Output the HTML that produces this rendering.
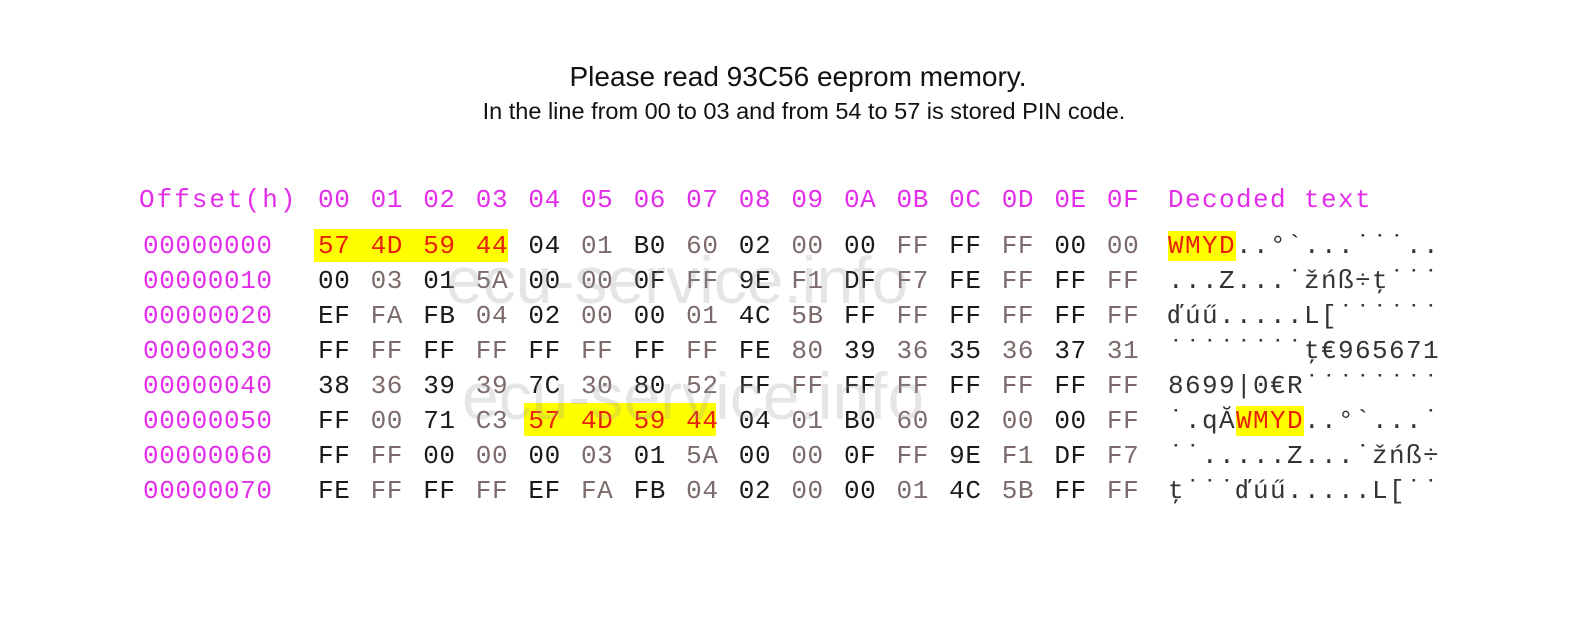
<!DOCTYPE html>
<html><head><meta charset="utf-8"><style>
body{margin:0;width:1586px;height:627px;background:#fff;position:relative;overflow:hidden;font-family:"Liberation Sans",sans-serif}
.t1{position:absolute;top:61px;left:0;width:1596px;text-align:center;font-size:28px;color:#111}
.t2{position:absolute;top:98px;left:0;width:1608px;text-align:center;font-size:23.5px;color:#111}
.row{position:absolute;left:0;height:35px;font-family:"Liberation Mono",monospace;font-size:26px;line-height:35px;letter-spacing:0.6px;white-space:nowrap}
.row .o{position:absolute;left:143px;color:#e22ee8}
.row .h{position:absolute;left:318px}
.row .h span{display:inline-block;width:52.6px}
.row .h span:nth-child(odd){color:#1a1a1a}
.row .h span:nth-child(even){color:#7d6b6b}
.row .d{position:absolute;left:1168px;color:#333;letter-spacing:1.4px}
.hdr{color:#e22ee8}
.hdr .h span{color:#e22ee8!important}
.hdr .o{left:139px;letter-spacing:2px}
.hdr .d{color:#e22ee8}
.w{background:#ffff00;color:#e8210c}
.hl{position:absolute;background:#ffff00}
.wm{position:absolute;font-family:"Liberation Sans",sans-serif;font-size:66px;color:rgba(150,150,150,0.25);white-space:nowrap}
</style></head><body>
<div class="t1">Please read 93C56 eeprom memory.</div>
<div class="t2">In the line from 00 to 03 and from 54 to 57 is stored PIN code.</div>
<div class="hl" style="left:314px;top:229px;width:194px;height:33px"></div>
<div class="hl" style="left:524px;top:403px;width:192px;height:33px"></div>
<div class="row hdr" style="top:183px"><span class="o">Offset(h)</span><span class="h"><span>00</span><span>01</span><span>02</span><span>03</span><span>04</span><span>05</span><span>06</span><span>07</span><span>08</span><span>09</span><span>0A</span><span>0B</span><span>0C</span><span>0D</span><span>0E</span><span>0F</span></span><span class="d">Decoded text</span></div>
<div class="row" style="top:229px"><span class="o">00000000</span><span class="h"><span style="color:#e8210c">57</span><span style="color:#e8210c">4D</span><span style="color:#e8210c">59</span><span style="color:#e8210c">44</span><span>04</span><span>01</span><span>B0</span><span>60</span><span>02</span><span>00</span><span>00</span><span>FF</span><span>FF</span><span>FF</span><span>00</span><span>00</span></span><span class="d"><span class="w">WMYD</span>..°`...˙˙˙..</span></div>
<div class="row" style="top:264px"><span class="o">00000010</span><span class="h"><span>00</span><span>03</span><span>01</span><span>5A</span><span>00</span><span>00</span><span>0F</span><span>FF</span><span>9E</span><span>F1</span><span>DF</span><span>F7</span><span>FE</span><span>FF</span><span>FF</span><span>FF</span></span><span class="d">...Z...˙žńß÷ţ˙˙˙</span></div>
<div class="row" style="top:299px"><span class="o">00000020</span><span class="h"><span>EF</span><span>FA</span><span>FB</span><span>04</span><span>02</span><span>00</span><span>00</span><span>01</span><span>4C</span><span>5B</span><span>FF</span><span>FF</span><span>FF</span><span>FF</span><span>FF</span><span>FF</span></span><span class="d">ďúű.....L[˙˙˙˙˙˙</span></div>
<div class="row" style="top:334px"><span class="o">00000030</span><span class="h"><span>FF</span><span>FF</span><span>FF</span><span>FF</span><span>FF</span><span>FF</span><span>FF</span><span>FF</span><span>FE</span><span>80</span><span>39</span><span>36</span><span>35</span><span>36</span><span>37</span><span>31</span></span><span class="d">˙˙˙˙˙˙˙˙ţ€965671</span></div>
<div class="row" style="top:369px"><span class="o">00000040</span><span class="h"><span>38</span><span>36</span><span>39</span><span>39</span><span>7C</span><span>30</span><span>80</span><span>52</span><span>FF</span><span>FF</span><span>FF</span><span>FF</span><span>FF</span><span>FF</span><span>FF</span><span>FF</span></span><span class="d">8699|0€R˙˙˙˙˙˙˙˙</span></div>
<div class="row" style="top:404px"><span class="o">00000050</span><span class="h"><span>FF</span><span>00</span><span>71</span><span>C3</span><span style="color:#e8210c">57</span><span style="color:#e8210c">4D</span><span style="color:#e8210c">59</span><span style="color:#e8210c">44</span><span>04</span><span>01</span><span>B0</span><span>60</span><span>02</span><span>00</span><span>00</span><span>FF</span></span><span class="d">˙.qĂ<span class="w">WMYD</span>..°`...˙</span></div>
<div class="row" style="top:439px"><span class="o">00000060</span><span class="h"><span>FF</span><span>FF</span><span>00</span><span>00</span><span>00</span><span>03</span><span>01</span><span>5A</span><span>00</span><span>00</span><span>0F</span><span>FF</span><span>9E</span><span>F1</span><span>DF</span><span>F7</span></span><span class="d">˙˙.....Z...˙žńß÷</span></div>
<div class="row" style="top:474px"><span class="o">00000070</span><span class="h"><span>FE</span><span>FF</span><span>FF</span><span>FF</span><span>EF</span><span>FA</span><span>FB</span><span>04</span><span>02</span><span>00</span><span>00</span><span>01</span><span>4C</span><span>5B</span><span>FF</span><span>FF</span></span><span class="d">ţ˙˙˙ďúű.....L[˙˙</span></div>
<div class="wm" style="left:446px;top:242px">ecu-service.info</div>
<div class="wm" style="left:462px;top:358px">ecu-service.info</div>
</body></html>
